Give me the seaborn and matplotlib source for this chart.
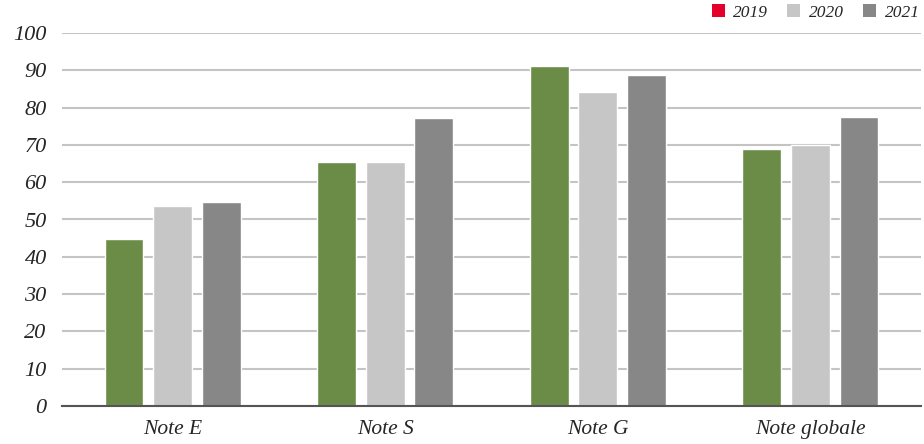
import pandas as pd
import seaborn as sns
import matplotlib.pyplot as plt
from matplotlib.patches import Patch

# valeurs
categories = ["Note E", "Note S", "Note G", "Note globale"]
years = ["2019", "2020", "2021"]
values_2019 = [44.8, 65.5, 91.1, 69.0]
values_2020 = [53.7, 65.5, 84.1, 70.0]
values_2021 = [54.8, 77.1, 88.7, 77.6]
yticks = [0, 10, 20, 30, 40, 50, 60, 70, 80, 90, 100]

bar_colors = ["#6b8c46", "#c6c6c6", "#878787"]
legend_colors = ["#e4002b", "#c6c6c6", "#878787"]

df = pd.DataFrame({
    "categorie": categories * 3,
    "annee": [y for y in years for _ in categories],
    "valeur": values_2019 + values_2020 + values_2021,
})

sns.set_style("white")
plt.rcParams["font.family"] = ["Liberation Serif", "DejaVu Serif"]

fig = plt.figure(figsize=(9.24, 4.44), dpi=100)
ax = fig.add_axes([62 / 924, 38 / 444, 859 / 924, 373 / 444])

sns.barplot(
    data=df,
    x="categorie",
    y="valeur",
    hue="annee",
    palette=bar_colors,
    width=0.685,
    gap=0.2,
    saturation=1,
    legend=False,
    ax=ax,
    zorder=3,
)

ax.set_ylim(0, 100)
ax.set_xlim(-0.52, 3.52)
ax.set_yticks(yticks)
ax.set_yticklabels([str(t) for t in yticks], fontsize=16, style="italic")
ax.set_xticks(range(len(categories)))
ax.set_xticklabels(categories, fontsize=15.5, style="italic")
ax.tick_params(axis="y", length=0, pad=11)
ax.tick_params(axis="x", length=0, pad=10)
ax.set_xlabel("")
ax.set_ylabel("")

ax.yaxis.grid(True, color="#c4c4c4", linewidth=1.5, zorder=0)
ax.xaxis.grid(False)
for side in ["top", "right", "left"]:
    ax.spines[side].set_visible(False)
ax.spines["bottom"].set_color("#555555")
ax.spines["bottom"].set_linewidth(1.5)
ax.spines["bottom"].set_zorder(4)

handles = [Patch(facecolor=c, edgecolor="none") for c in legend_colors]
fig.legend(
    handles, years,
    loc="upper right",
    bbox_to_anchor=(1.005, 1.01),
    ncol=3,
    frameon=False,
    prop={"family": "Liberation Serif", "style": "italic", "size": 12.5},
    handlelength=0.75,
    handleheight=0.75,
    handletextpad=0.5,
    columnspacing=1.1,
    borderaxespad=0.1,
)

fig.savefig("out.png", dpi=100)
